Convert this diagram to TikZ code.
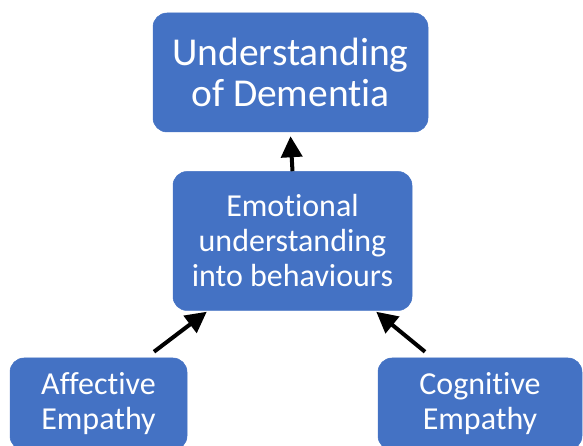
\documentclass[tikz,border=0pt]{standalone}
\usepackage{fontspec}
\setmainfont{Carlito}[Ligatures={NoCommon,NoContextual,NoRequired}]
\usetikzlibrary{arrows.meta,calc}
\definecolor{boxblue}{HTML}{4472C4}
\begin{document}
\begin{tikzpicture}[x=1pt,y=1pt,
  box/.style={fill=boxblue, draw=boxblue, line width=0.5pt, rounded corners=14pt,
    text=white, align=center, inner sep=0pt},
  arr/.style={line width=4pt, -{Triangle[length=21pt,width=21pt]}}]
\useasboundingbox (0,0) rectangle (583,446);
\clip (0,0) rectangle (583,446);
% boxes
\node[box, minimum width=275pt, minimum height=119pt,
      font=\fontsize{39.5}{41}\selectfont] (dem) at (290.5,373.5) {Understanding\\of Dementia};
\node[box, minimum width=239pt, minimum height=139pt,
      font=\fontsize{32}{35}\selectfont] (emo) at (292.5,205) {Emotional\\understanding\\into behaviours};
\node[box, minimum width=177pt, minimum height=92pt,
      font=\fontsize{32}{35}\selectfont] (aff) at (98.5,42) {Affective\\Empathy};
\node[box, minimum width=204pt, minimum height=92pt,
      font=\fontsize{32}{35}\selectfont] (cog) at (480,42) {Cognitive\\Empathy};
% arrows
\draw[arr] (emo.north) -- ($(dem.south)+(0,-4)$);
\draw[arr] ($(aff.north)+(55.5,6)$) -- ($(emo.south west)+(34,-1)$);
\draw[arr] ($(cog.north)+(-55,6)$) -- ($(emo.south east)+(-36,-1)$);
\end{tikzpicture}
\end{document}
